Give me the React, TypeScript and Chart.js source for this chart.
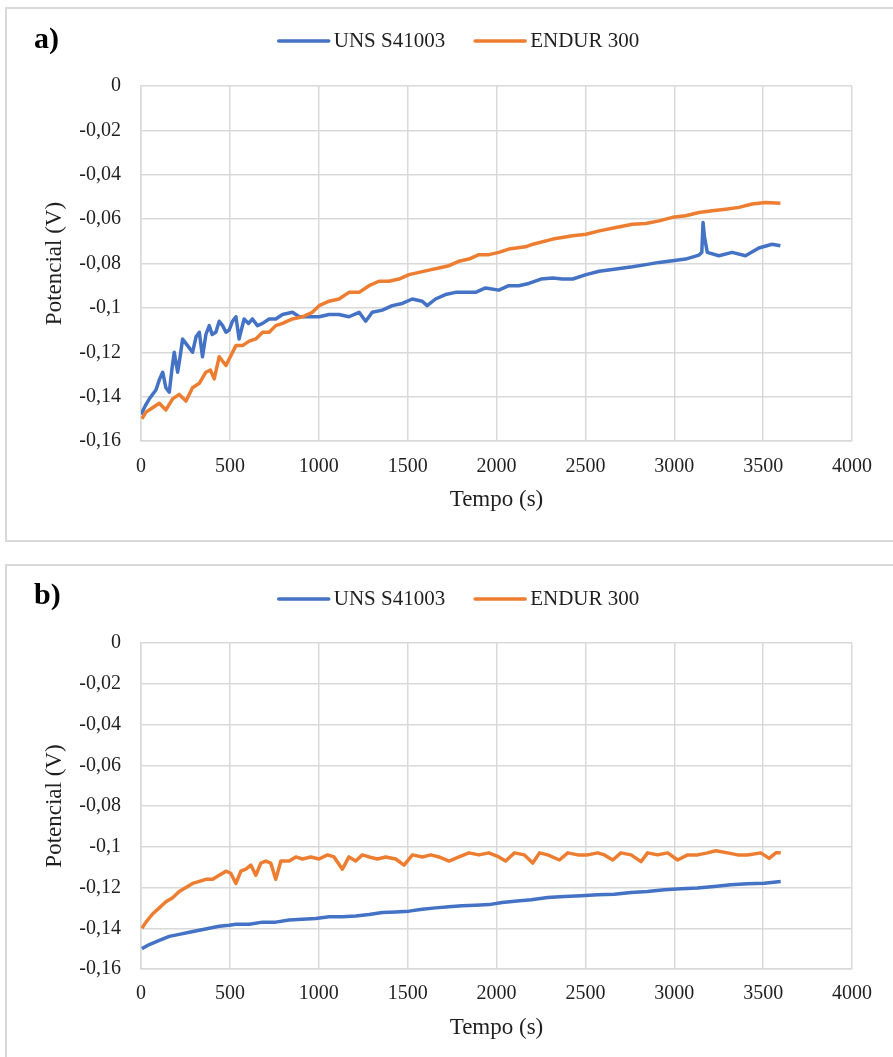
import React, { useEffect, useRef } from "react";
import { Chart, registerables } from "chart.js";

Chart.register(...registerables);

const FONT = "'Liberation Serif', 'Times New Roman', serif";
const TEXT = "#1f1f1f";
const GRID = "#d9d9d9";

const seriesNames = ["UNS S41003", "ENDUR 300"];
const seriesColors = ["#4472C4", "#ED7D31"];
const panelLetters = ["a)", "b)"];
const xTickLabels = ["0", "500", "1000", "1500", "2000", "2500", "3000", "3500", "4000"];
const yTickLabels = ["-0,16", "-0,14", "-0,12", "-0,1", "-0,08", "-0,06", "-0,04", "-0,02", "0"];
const xTitle = "Tempo (s)";
const yTitle = "Potencial (V)";

// Panel a) — UNS S41003
const aBlueT = [0, 25, 47, 65, 84, 105, 122, 140, 159, 175, 187, 206, 220, 234, 262, 290, 310, 328, 346, 365, 384, 400, 421, 440, 459, 478, 496, 515, 534, 552, 580, 605, 627, 655, 684, 721, 758, 796, 852, 890, 946, 1002, 1058, 1114, 1170, 1227, 1264, 1301, 1358, 1414, 1470, 1526, 1582, 1610, 1657, 1713, 1770, 1826, 1882, 1938, 2013, 2069, 2125, 2182, 2250, 2317, 2370, 2429, 2504, 2578, 2672, 2765, 2840, 2915, 2990, 3064, 3139, 3155, 3162, 3170, 3186, 3251, 3326, 3401, 3476, 3550, 3597];
const aBlueV = [-0.148, -0.144, -0.141, -0.139, -0.137, -0.132, -0.129, -0.136, -0.138, -0.127, -0.12, -0.129, -0.122, -0.114, -0.117, -0.12, -0.113, -0.111, -0.122, -0.112, -0.108, -0.112, -0.111, -0.106, -0.108, -0.111, -0.11, -0.106, -0.104, -0.114, -0.105, -0.107, -0.105, -0.108, -0.107, -0.105, -0.105, -0.103, -0.102, -0.104, -0.104, -0.104, -0.103, -0.103, -0.104, -0.102, -0.106, -0.102, -0.101, -0.099, -0.098, -0.096, -0.097, -0.099, -0.096, -0.094, -0.093, -0.093, -0.093, -0.091, -0.092, -0.09, -0.09, -0.089, -0.087, -0.0865, -0.087, -0.087, -0.085, -0.0835, -0.0825, -0.0815, -0.0805, -0.0795, -0.0788, -0.078, -0.0762, -0.075, -0.0615, -0.068, -0.075, -0.0765, -0.075, -0.0765, -0.073, -0.0713, -0.072];
// Panel a) — ENDUR 300
const aOrangeT = [5, 28, 65, 103, 140, 178, 215, 253, 290, 328, 365, 390, 412, 440, 478, 496, 534, 571, 609, 646, 684, 721, 758, 796, 852, 908, 964, 1002, 1058, 1114, 1170, 1227, 1283, 1339, 1395, 1451, 1508, 1564, 1620, 1676, 1732, 1788, 1845, 1901, 1957, 2013, 2069, 2163, 2205, 2317, 2429, 2504, 2578, 2672, 2765, 2840, 2915, 2990, 3064, 3139, 3214, 3289, 3364, 3438, 3513, 3597];
const aOrangeV = [-0.15, -0.147, -0.145, -0.143, -0.146, -0.141, -0.139, -0.142, -0.136, -0.134, -0.129, -0.128, -0.132, -0.122, -0.126, -0.123, -0.117, -0.117, -0.115, -0.114, -0.111, -0.111, -0.108, -0.107, -0.105, -0.104, -0.102, -0.099, -0.097, -0.096, -0.093, -0.093, -0.09, -0.088, -0.088, -0.087, -0.085, -0.084, -0.083, -0.082, -0.081, -0.079, -0.078, -0.076, -0.076, -0.075, -0.0735, -0.0725, -0.0713, -0.069, -0.0675, -0.0668, -0.0653, -0.0638, -0.0623, -0.062, -0.0608, -0.0592, -0.0585, -0.057, -0.0562, -0.0555, -0.0547, -0.0532, -0.0525, -0.0528];

// Panel b) — UNS S41003
const bBlueT = [5, 47, 103, 159, 215, 272, 328, 384, 440, 496, 534, 609, 684, 758, 833, 908, 983, 1058, 1133, 1208, 1283, 1358, 1433, 1508, 1582, 1657, 1732, 1807, 1882, 1957, 2032, 2101, 2195, 2288, 2382, 2476, 2569, 2663, 2757, 2850, 2944, 3037, 3131, 3225, 3318, 3412, 3506, 3599];
const bBlueV = [-0.15, -0.148, -0.146, -0.144, -0.143, -0.142, -0.141, -0.14, -0.139, -0.1385, -0.138, -0.138, -0.137, -0.137, -0.136, -0.1356, -0.1352, -0.1344, -0.1344, -0.134, -0.1333, -0.1323, -0.132, -0.1316, -0.1307, -0.13, -0.1295, -0.129, -0.1287, -0.1284, -0.1274, -0.1267, -0.126, -0.1249, -0.1244, -0.124, -0.1236, -0.1233, -0.1224, -0.122, -0.1211, -0.1206, -0.1203, -0.1195, -0.1187, -0.1182, -0.1179, -0.117];
// Panel b) — ENDUR 300
const bOrangeT = [5, 28, 65, 103, 140, 178, 215, 253, 290, 328, 365, 403, 440, 478, 505, 534, 562, 590, 618, 646, 674, 702, 730, 758, 787, 834, 871, 908, 955, 1002, 1049, 1086, 1133, 1170, 1208, 1245, 1283, 1330, 1377, 1433, 1480, 1527, 1583, 1630, 1676, 1733, 1789, 1845, 1901, 1957, 2013, 2051, 2101, 2157, 2204, 2242, 2288, 2354, 2401, 2457, 2513, 2569, 2607, 2654, 2700, 2757, 2813, 2850, 2906, 2963, 3019, 3075, 3131, 3187, 3234, 3300, 3356, 3412, 3487, 3534, 3571, 3599];
const bOrangeV = [-0.14, -0.137, -0.133, -0.13, -0.127, -0.125, -0.122, -0.12, -0.118, -0.117, -0.116, -0.116, -0.114, -0.112, -0.113, -0.118, -0.112, -0.111, -0.109, -0.114, -0.108, -0.107, -0.108, -0.116, -0.107, -0.107, -0.105, -0.106, -0.105, -0.106, -0.104, -0.105, -0.111, -0.105, -0.107, -0.104, -0.105, -0.106, -0.105, -0.106, -0.109, -0.104, -0.105, -0.104, -0.105, -0.107, -0.105, -0.103, -0.104, -0.103, -0.105, -0.107, -0.103, -0.104, -0.108, -0.103, -0.104, -0.1065, -0.103, -0.104, -0.104, -0.103, -0.104, -0.1065, -0.103, -0.104, -0.1073, -0.103, -0.104, -0.103, -0.1065, -0.104, -0.104, -0.103, -0.102, -0.103, -0.104, -0.104, -0.103, -0.1057, -0.103, -0.103];

type PanelProps = {
  letter: string;
  blueT: number[];
  blueV: number[];
  orangeT: number[];
  orangeV: number[];
  boxTop: number;
  boxHeight: number;
  canvasH: number;
  plotBottom: number;
  tickPad: number;
  titlePad: number;
  legendY: number;
  letterY: number;
};

const CANVAS_W = 906;
const PLOT_TOP = 77;
const PLOT_LEFT = 134;
const PLOT_RIGHT = 845;

function pts(t: number[], v: number[]) {
  return t.map((x, i) => ({ x, y: v[i] }));
}

function Panel(p: PanelProps) {
  const ref = useRef<HTMLCanvasElement>(null);
  useEffect(() => {
    if (!ref.current) return;
    const overlay = {
      id: "overlay",
      afterDraw(chart: any) {
        const ctx = chart.ctx;
        ctx.save();
        ctx.font = `bold 30px ${FONT}`;
        ctx.fillStyle = "#000";
        ctx.textAlign = "left";
        ctx.textBaseline = "middle";
        ctx.fillText(p.letter, 27, p.letterY);
        ctx.font = `21px ${FONT}`;
        const sample = 50;
        const gap = 5;
        const between = 30;
        const widths = seriesNames.map((n) => ctx.measureText(n).width);
        const total = widths.reduce((s, w) => s + sample + gap + w, 0) + between * (seriesNames.length - 1);
        let x = 452 - total / 2;
        seriesNames.forEach((n, i) => {
          ctx.strokeStyle = seriesColors[i];
          ctx.lineWidth = 3.5;
          ctx.lineCap = "round";
          ctx.beginPath();
          ctx.moveTo(x, p.legendY);
          ctx.lineTo(x + sample, p.legendY);
          ctx.stroke();
          ctx.fillStyle = TEXT;
          ctx.fillText(n, x + sample + gap, p.legendY);
          x += sample + gap + widths[i] + between;
        });
        ctx.restore();
      },
    };
    const chart = new Chart(ref.current, {
      type: "line",
      data: {
        datasets: [
          {
            label: seriesNames[0],
            data: pts(p.blueT, p.blueV),
            borderColor: seriesColors[0],
            backgroundColor: seriesColors[0],
            borderWidth: 3.5,
            pointRadius: 0,
            tension: 0,
            borderJoinStyle: "round",
            order: 1,
          },
          {
            label: seriesNames[1],
            data: pts(p.orangeT, p.orangeV),
            borderColor: seriesColors[1],
            backgroundColor: seriesColors[1],
            borderWidth: 3.5,
            pointRadius: 0,
            tension: 0,
            borderJoinStyle: "round",
            order: 0,
          },
        ],
      },
      options: {
        animation: false,
        responsive: false,
        devicePixelRatio: 1,
        layout: { padding: { left: 0, top: PLOT_TOP, right: CANVAS_W - PLOT_RIGHT, bottom: 0 } },
        plugins: { legend: { display: false }, tooltip: { enabled: false } },
        scales: {
          x: {
            type: "linear",
            min: 0,
            max: 4000,
            afterBuildTicks: (s: any) => {
              s.ticks = xTickLabels.map((l) => ({ value: Number(l) }));
            },
            afterFit: (s: any) => {
              s.height = p.canvasH - p.plotBottom;
            },
            ticks: {
              callback: (_v: any, i: number) => xTickLabels[i],
              font: { family: FONT, size: 20 },
              color: TEXT,
              padding: p.tickPad,
              maxRotation: 0,
              autoSkip: false,
            },
            grid: { color: GRID, lineWidth: 1.5, drawTicks: false },
            border: { color: GRID, width: 1.5 },
            title: {
              display: true,
              text: xTitle,
              font: { family: FONT, size: 23 },
              color: TEXT,
              padding: { top: 0, bottom: p.titlePad },
            },
          },
          y: {
            type: "linear",
            min: -0.16,
            max: 0,
            afterBuildTicks: (s: any) => {
              s.ticks = yTickLabels.map((l) => ({ value: Number(l.replace(",", ".")) }));
            },
            afterFit: (s: any) => {
              s.width = PLOT_LEFT;
            },
            ticks: {
              callback: (_v: any, i: number) => yTickLabels[i],
              font: { family: FONT, size: 20 },
              color: TEXT,
              padding: 20,
              autoSkip: false,
            },
            grid: { color: GRID, lineWidth: 1.5, drawTicks: false },
            border: { color: GRID, width: 1.5 },
            title: {
              display: true,
              text: yTitle,
              font: { family: FONT, size: 23 },
              color: TEXT,
              padding: { top: 34, bottom: 0 },
            },
          },
        },
      },
      plugins: [overlay],
    } as any);
    return () => chart.destroy();
  }, []);
  return (
    <div
      style={{
        position: "absolute",
        left: 5,
        top: p.boxTop,
        width: 910,
        height: p.boxHeight,
        border: `2px solid ${GRID}`,
        boxSizing: "border-box",
        background: "#fff",
      }}
    >
      <canvas
        ref={ref}
        width={CANVAS_W}
        height={p.canvasH}
        style={{ display: "block", width: CANVAS_W, height: p.canvasH }}
      />
    </div>
  );
}

export default function App() {
  return (
    <div
      style={{
        position: "absolute",
        left: 0,
        top: 0,
        width: 893,
        height: 1057,
        overflow: "hidden",
        background: "#fff",
      }}
    >
      <Panel
        letter={panelLetters[0]}
        blueT={aBlueT}
        blueV={aBlueV}
        orangeT={aOrangeT}
        orangeV={aOrangeV}
        boxTop={7}
        boxHeight={535}
        canvasH={531}
        plotBottom={432}
        tickPad={14}
        titlePad={26}
        legendY={32}
        letterY={31}
      />
      <Panel
        letter={panelLetters[1]}
        blueT={bBlueT}
        blueV={bBlueV}
        orangeT={bOrangeT}
        orangeV={bOrangeV}
        boxTop={564}
        boxHeight={500}
        canvasH={496}
        plotBottom={403}
        tickPad={13}
        titlePad={20}
        legendY={33}
        letterY={30}
      />
    </div>
  );
}
